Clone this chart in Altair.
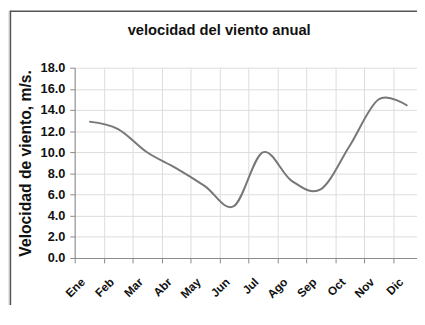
import json
import altair as alt
import pandas as pd

months = ["Ene", "Feb", "Mar", "Abr", "May", "Jun", "Jul", "Ago", "Sep", "Oct", "Nov", "Dic"]
velocidad = [12.9, 12.2, 10.0, 8.5, 6.8, 4.9, 10.0, 7.3, 6.5, 10.6, 15.0, 14.4]
y_ticks = [0, 2, 4, 6, 8, 10, 12, 14, 16, 18]

df = pd.DataFrame({"mes": months, "vel": velocidad})
df["pos"] = [i + 0.5 for i in range(len(months))]

label_expr = json.dumps(months) + "[datum.value]"
FONT = "Liberation Sans"

line = alt.Chart(df).mark_line(
    interpolate="cardinal", color="#777777", strokeWidth=2
).encode(
    x=alt.X(
        "pos:Q",
        scale=alt.Scale(domain=[0, 11.83], nice=False, zero=False),
        axis=alt.Axis(
            values=list(range(len(months))),
            labelExpr=label_expr,
            labelAngle=-45,
            labelAlign="right",
            labelBaseline="middle",
            labelOffset=8,
            labelPadding=17,
            labelFont=FONT,
            labelFontSize=12,
            labelFontWeight="bold",
            labelColor="#111111",
            title=None,
            grid=True,
            gridColor="#dcdcdc",
            domainColor="#8a8a8a",
            tickColor="#8a8a8a",
            tickSize=5,
        ),
    ),
    y=alt.Y(
        "vel:Q",
        scale=alt.Scale(domain=[0, 18], nice=False),
        axis=alt.Axis(
            values=y_ticks,
            format=".1f",
            labelFont=FONT,
            labelFontSize=13,
            labelFontWeight="bold",
            labelColor="#111111",
            labelPadding=5,
            title="Velocidad de viento, m/s.",
            titleFont=FONT,
            titleFontSize=16,
            titleFontWeight="bold",
            titleColor="#111111",
            titlePadding=7,
            grid=True,
            gridColor="#dcdcdc",
            domainColor="#8a8a8a",
            tickColor="#8a8a8a",
            tickSize=5,
        ),
    ),
)

dummy = pd.DataFrame({"a": [0]})
# outer frame of the chart box (decoration)
strip = alt.Chart(dummy).mark_rule(color="#e8e8e8", strokeWidth=2).encode(
    x=alt.value(-67), y=alt.value(-58), y2=alt.value(260)
)
frame_v = alt.Chart(dummy).mark_rule(color="#555555", strokeWidth=1.5).encode(
    x=alt.value(-65.5), y=alt.value(-58), y2=alt.value(260)
)
frame_h = alt.Chart(dummy).mark_rule(color="#555555", strokeWidth=1.5).encode(
    x=alt.value(-66), x2=alt.value(360), y=alt.value(-57.5)
)

chart = alt.layer(strip, frame_v, frame_h, line).properties(
    width=349,
    height=194,
    autosize=alt.AutoSizeParams(type="none"),
    padding={"left": 68, "top": 58, "right": 0, "bottom": 45},
    background="white",
    title=alt.TitleParams(
        "velocidad del viento anual",
        font=FONT,
        fontSize=15,
        fontWeight="bold",
        color="#111111",
        anchor="start",
        frame="group",
        dx=54,
        offset=-29,
    ),
).configure_view(
    stroke=None
)

chart.save("out.html", embed_options={"renderer": "svg", "actions": False})
